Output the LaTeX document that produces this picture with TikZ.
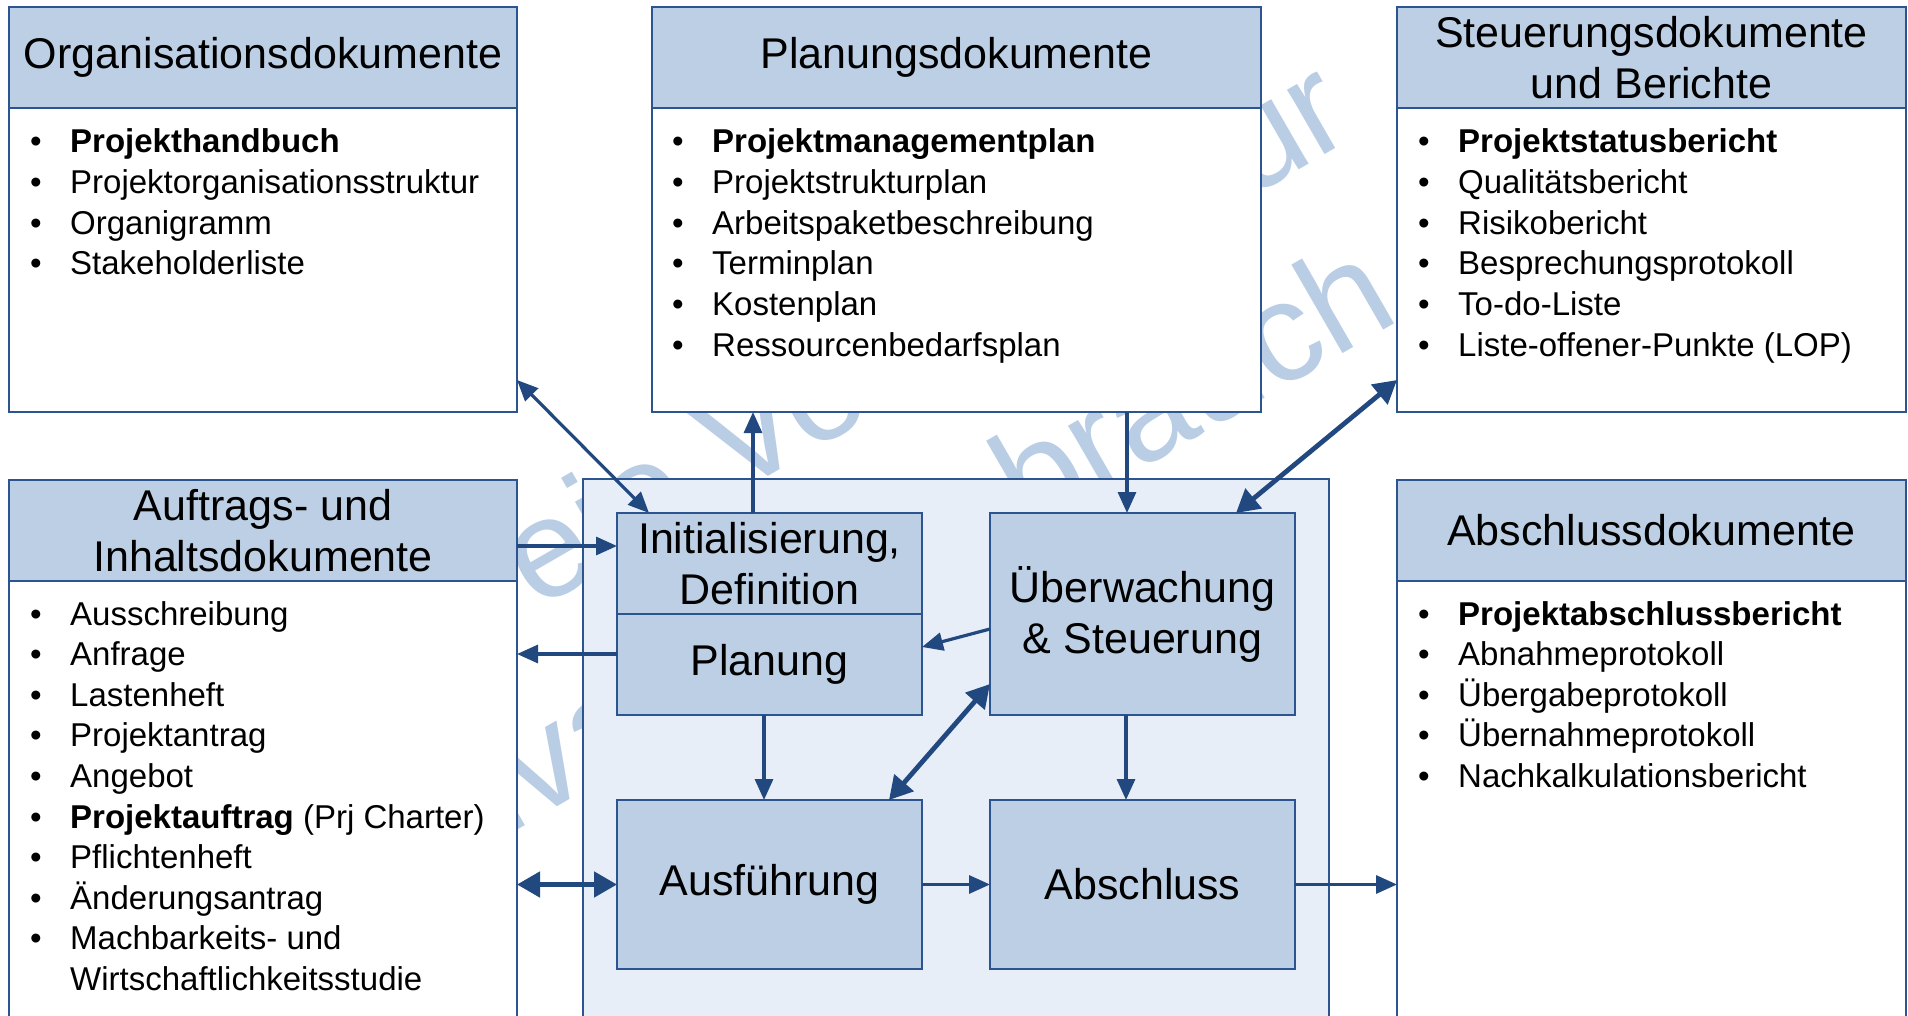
\documentclass[tikz,border=0pt]{standalone}
\usepackage{fontspec}
\setmainfont{Liberation Sans}
\usetikzlibrary{arrows.meta,calc}

\definecolor{bord}{HTML}{2C5491}
\definecolor{arrowblue}{HTML}{21487F}
\definecolor{headblue}{HTML}{BCCFE4}
\definecolor{corefill}{HTML}{E8EEF7}
\definecolor{wmblue}{HTML}{B9CDE5}

% bullet and hanging indent for the document lists
\newcommand\bulletmark{\makebox[40pt][l]{\textbullet}}
\newcommand\listindent{\hspace*{40pt}}

% one node per list line: #1 name prefix, #2 left x, #3 first baseline, #4 lines
\newcommand\doclist[4]{%
  \foreach \txt [count=\k] in {#4}{%
    \node[listline] (#1-\k) at ({#2},{#3+(\k-1)*40.6}) {\txt};}}

\tikzset{
  docbody/.style={draw=bord, line width=2.5pt, fill=white, inner sep=0pt,
    outer sep=0pt, anchor=north west},
  dochead/.style={draw=bord, line width=2.5pt, fill=headblue, inner sep=0pt,
    outer sep=0pt, anchor=north west, minimum height=101pt, align=center,
    font=\fontsize{43pt}{51.6pt}\selectfont},
  phase/.style={draw=bord, line width=2.5pt, fill=headblue, inner sep=0pt,
    outer sep=0pt, anchor=north west, minimum width=305pt, align=center,
    font=\fontsize{43pt}{51pt}\selectfont},
  listline/.style={anchor=base west, inner sep=0pt,
    font=\fontsize{33pt}{40.6pt}\selectfont},
  wm/.style={anchor=base west, inner sep=0pt, rotate=30, text=wmblue,
    font=\fontsize{141pt}{165pt}\selectfont},
  thinarrow/.style={draw=arrowblue, line width=3.2pt,
    -{Triangle[length=21pt,width=18pt]}},
  thinboth/.style={draw=arrowblue, line width=3.2pt,
    {Triangle[length=21pt,width=18pt]}-{Triangle[length=21pt,width=18pt]}},
  thickboth/.style={draw=arrowblue, line width=4.8pt,
    {Triangle[length=23pt,width=25pt]}-{Triangle[length=23pt,width=25pt]}},
}

\begin{document}
\begin{tikzpicture}[x=1pt,y=-1pt]
\clip (0,0) rectangle (1908,1016);
\fill[white] (0,0) rectangle (1908,1016);

% watermark behind everything
\node[wm] (wm1) at (421,677) {Freie Vorlage nur};
\node[wm] (wm2) at (398,899) {privaten Gebrauch};

% upper document boxes
\node[docbody, minimum width=508pt, minimum height=405pt] (orgB) at (9,7) {};
\node[dochead, minimum width=508pt] (orgH) at (9,7) {Organisationsdokumente};
\node[docbody, minimum width=609pt, minimum height=405pt] (planB) at (652,7) {};
\node[dochead, minimum width=609pt] (planH) at (652,7) {Planungsdokumente};
\node[docbody, minimum width=509pt, minimum height=405pt] (steuB) at (1397,7) {};
\node[dochead, minimum width=509pt] (steuH) at (1397,7) {Steuerungsdokumente\\und Berichte};

% lower document boxes (running off the bottom edge)
\node[docbody, minimum width=508pt, minimum height=580pt] (auftB) at (9,480) {};
\node[dochead, minimum width=508pt] (auftH) at (9,480) {Auftrags- und\\Inhaltsdokumente};
\node[docbody, minimum width=509pt, minimum height=580pt] (absdB) at (1397,480) {};
\node[dochead, minimum width=509pt] (absdH) at (1397,480) {Abschlussdokumente};

% process area with the phases
\node[docbody, fill=corefill, minimum width=746pt, minimum height=580pt] (core) at (583,479) {};
\node[phase, minimum height=101pt] (init) at (617,513) {Initialisierung,\\Definition};
\node[phase, minimum height=101pt] (planung) at (617,614) {Planung};
\node[phase, minimum height=202pt] (ueber) at (990,513) {Überwachung\\\& Steuerung};
\node[phase, minimum height=169pt] (ausf) at (617,800) {Ausführung};
\node[phase, minimum height=169pt] (absch) at (990,800) {Abschluss};

% document lists
\doclist{org}{30}{153}{\bulletmark\textbf{Projekthandbuch},\bulletmark Projektorganisationsstruktur,\bulletmark Organigramm,\bulletmark Stakeholderliste}
\doclist{plan}{672}{153}{\bulletmark\textbf{Projektmanagementplan},\bulletmark Projektstrukturplan,\bulletmark Arbeitspaketbeschreibung,\bulletmark Terminplan,\bulletmark Kostenplan,\bulletmark Ressourcenbedarfsplan}
\doclist{steu}{1418}{153}{\bulletmark\textbf{Projektstatusbericht},\bulletmark Qualitätsbericht,\bulletmark Risikobericht,\bulletmark Besprechungsprotokoll,\bulletmark To-do-Liste,\bulletmark Liste-offener-Punkte (LOP)}
\doclist{auft}{30}{625}{\bulletmark Ausschreibung,\bulletmark Anfrage,\bulletmark Lastenheft,\bulletmark Projektantrag,\bulletmark Angebot,\bulletmark\textbf{Projektauftrag} (Prj Charter),\bulletmark Pflichtenheft,\bulletmark Änderungsantrag,\bulletmark Machbarkeits- und,\listindent Wirtschaftlichkeitsstudie}
\doclist{absd}{1418}{625}{\bulletmark\textbf{Projektabschlussbericht},\bulletmark Abnahmeprotokoll,\bulletmark Übergabeprotokoll,\bulletmark Übernahmeprotokoll,\bulletmark Nachkalkulationsbericht}

% connectors
\draw[thinboth] ($(orgB.south east)+(0,-32)$) -- ($(init.north west)+(32,0)$);
\draw[thinarrow] ($(init.north west)+(136,0)$) coordinate (c2) -- (c2 |- planB.south);
\draw[thinarrow] ($(planB.south west)+(475,0)$) coordinate (c3) -- (c3 |- ueber.north);
\draw[thickboth] ($(steuB.south west)+(0,-32)$) -- ($(ueber.north west)+(246,0)$);
\draw[thinarrow] ($(auftH.south east)+(0,-35)$) coordinate (c5) -- (c5 -| init.west);
\draw[thinarrow] ($(planung.north west)+(0,40)$) coordinate (c6) -- (c6 -| auftB.east);
\draw[thinarrow] ($(ueber.north west)+(0,116)$) -- ($(planung.north east)+(0,33)$);
\draw[thinarrow] ($(planung.south west)+(147,0)$) coordinate (c8) -- (c8 |- ausf.north);
\draw[thickboth] ($(ausf.north west)+(272,0)$) -- ($(ueber.north west)+(0,171)$);
\draw[thinarrow] ($(ueber.south west)+(136,0)$) coordinate (c10) -- (c10 |- absch.north);
\draw[thickboth] (ausf.west -| auftB.east) -- (ausf.west);
\draw[thinarrow] (ausf.east) -- (absch.west);
\draw[thinarrow] (absch.east) -- (absch.east -| absdB.west);
\end{tikzpicture}
\end{document}
